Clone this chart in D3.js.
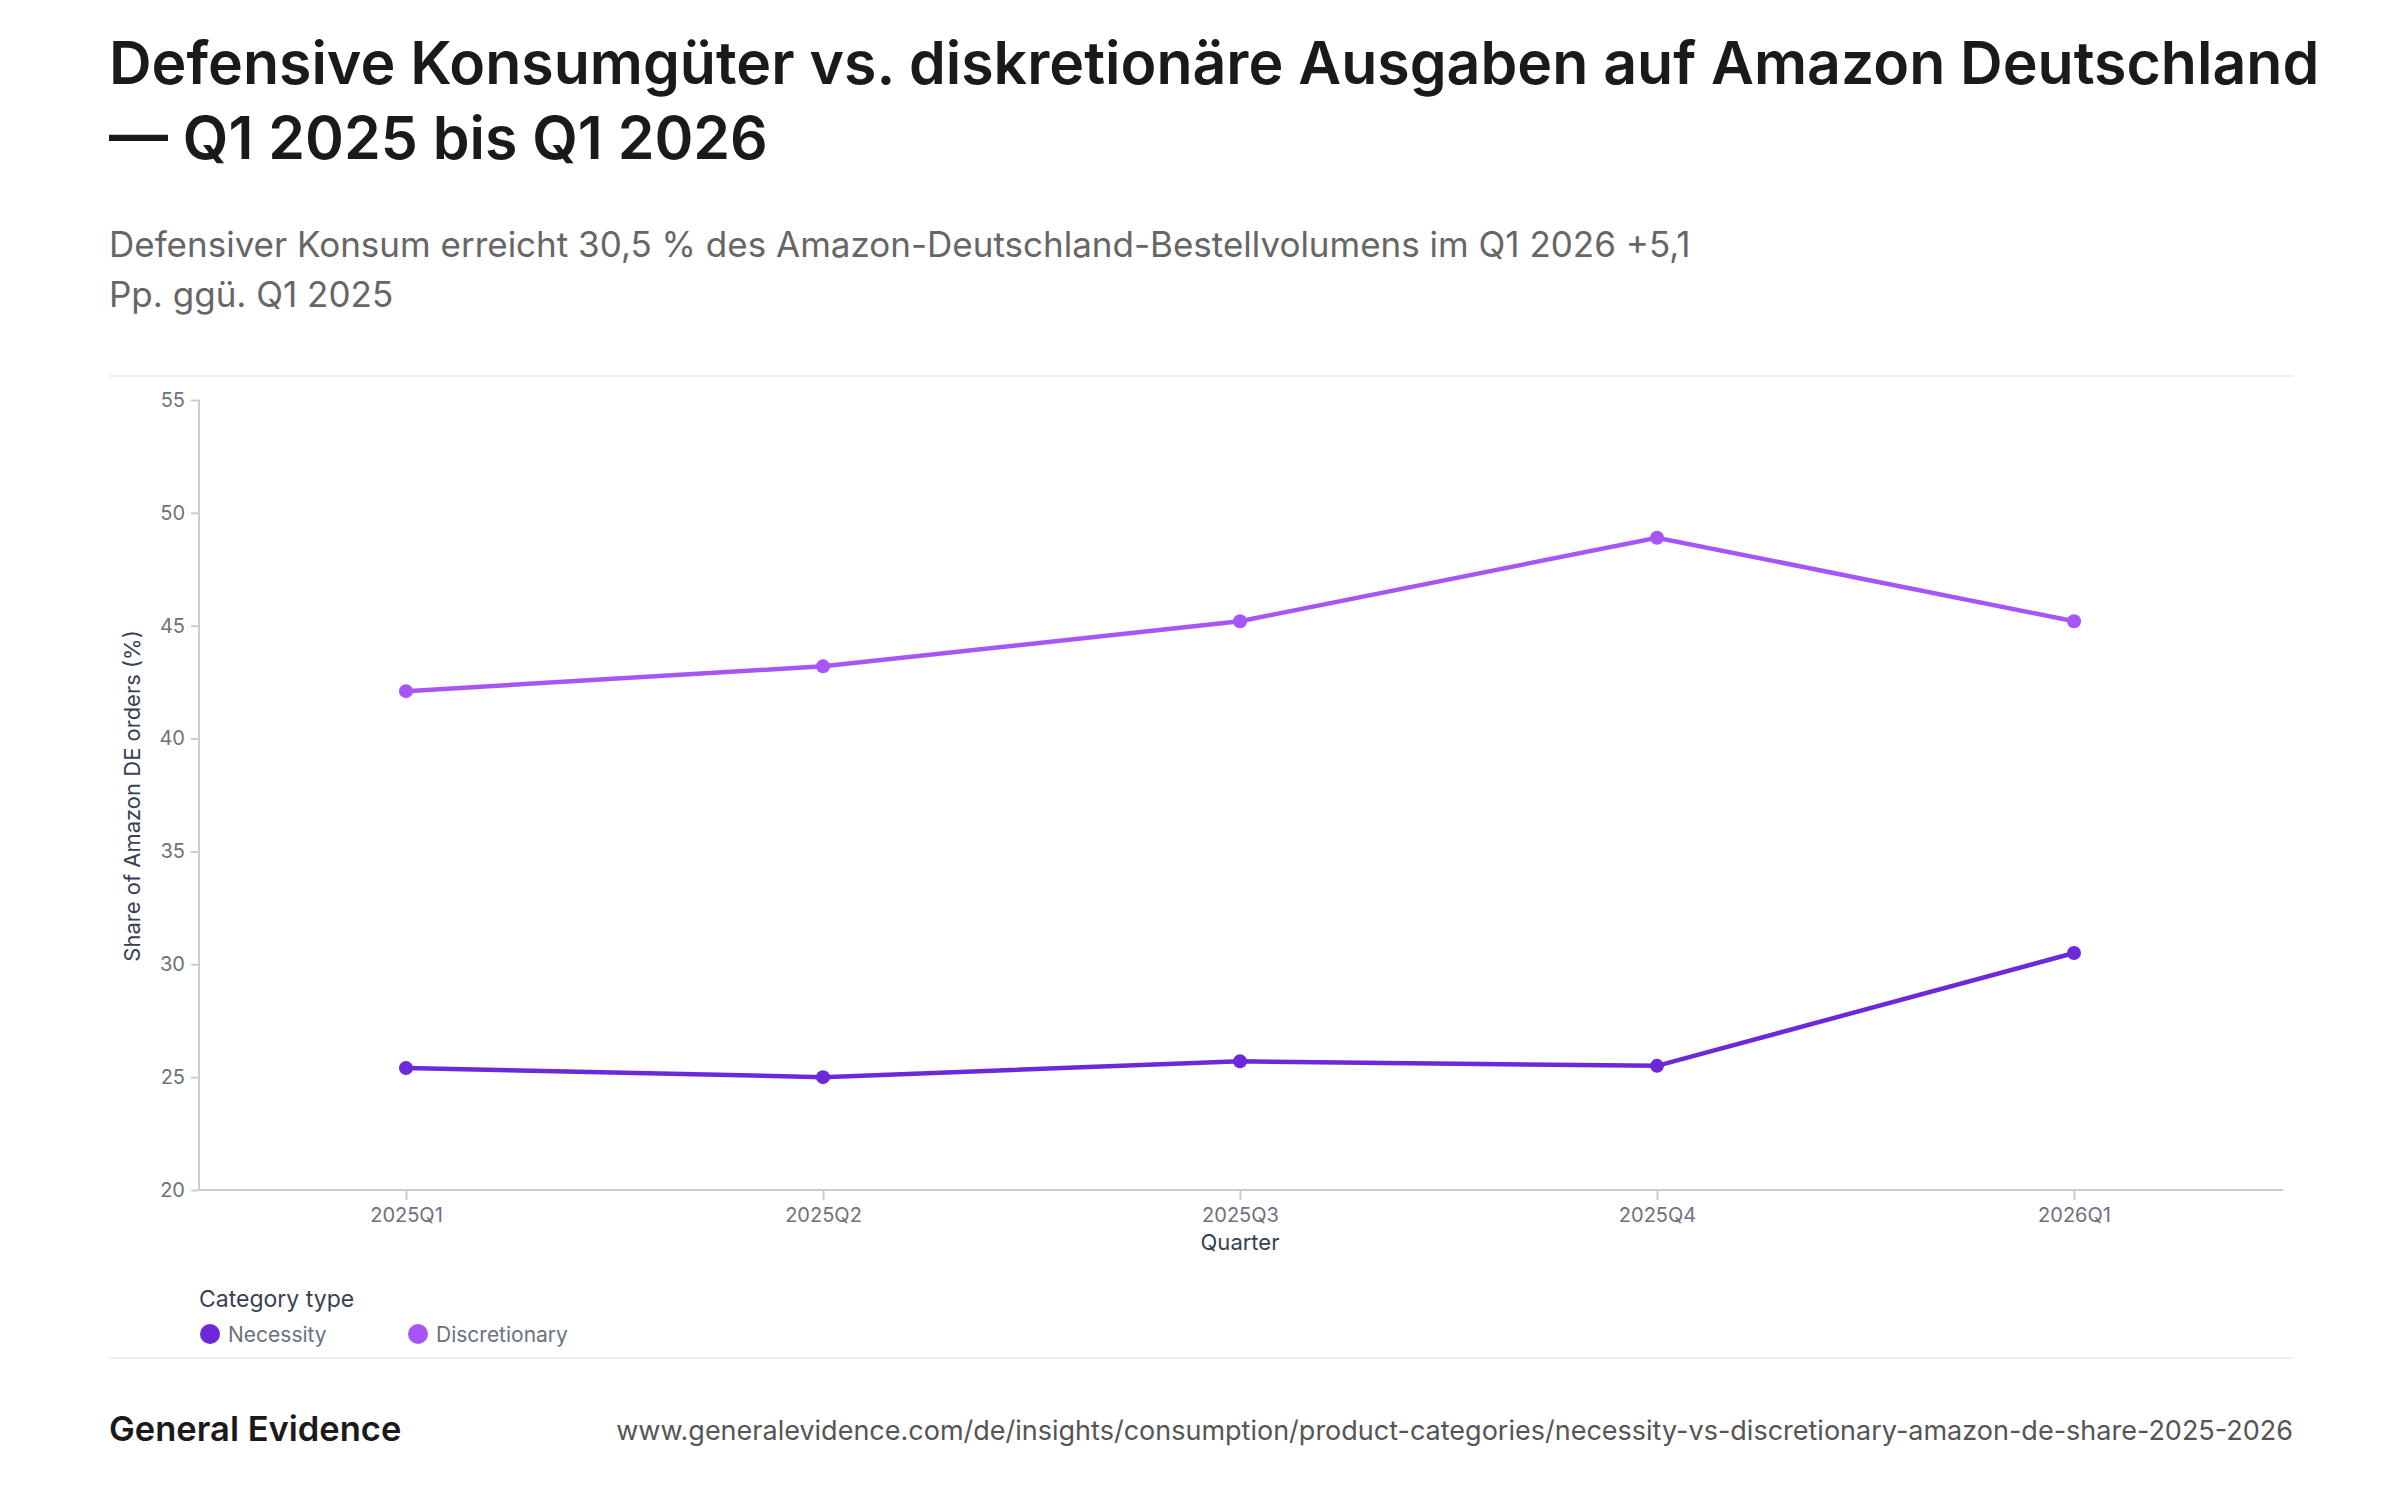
<!DOCTYPE html>
<html><head><meta charset="utf-8">
<script src="https://cdn.jsdelivr.net/npm/d3@7"></script>
<style>body{margin:0;background:#fff}text{font-family:Inter,"Noto Sans",sans-serif}</style>
</head><body><svg id="chart" width="2400" height="1500"></svg>
<script>
// Chart data
var quarters = ["2025Q1", "2025Q2", "2025Q3", "2025Q4", "2026Q1"];
var necessity = [25.4, 25.0, 25.7, 25.5, 30.5];
var discretionary = [42.1, 43.2, 45.2, 48.9, 45.2];
var yTicks = [20, 25, 30, 35, 40, 45, 50, 55];
var seriesNames = ["Necessity", "Discretionary"];
var colors = ["#6d28d9", "#a855f7"];

var svg = d3.select("#chart");

// Header
svg.append("text").attr("x", 109).attr("y", 84).attr("font-size", 59).attr("font-weight", 600).attr("fill", "#1a1a1a")
    .text("Defensive Konsumgüter vs. diskretionäre Ausgaben auf Amazon Deutschland");
svg.append("text").attr("x", 109).attr("y", 159).attr("font-size", 59).attr("font-weight", 600).attr("fill", "#1a1a1a")
    .text("— Q1 2025 bis Q1 2026");
svg.append("text").attr("x", 109).attr("y", 257).attr("font-size", 35).attr("fill", "#666")
    .text("Defensiver Konsum erreicht 30,5 % des Amazon-Deutschland-Bestellvolumens im Q1 2026 +5,1");
svg.append("text").attr("x", 109).attr("y", 307).attr("font-size", 35).attr("fill", "#666")
    .text("Pp. ggü. Q1 2025");

svg.append("line").attr("x1", 109).attr("x2", 2293).attr("y1", 376).attr("y2", 376).attr("stroke", "#eee").attr("stroke-width", 2);
svg.append("line").attr("x1", 109).attr("x2", 2293).attr("y1", 1358).attr("y2", 1358).attr("stroke", "#eee").attr("stroke-width", 2);

// Scales
var x = d3.scalePoint().domain(quarters).range([406, 2074]);
var y = d3.scaleLinear().domain([20, 55]).range([1190, 400]);

// Axes
var gx = svg.append("g").attr("transform", "translate(0,1190)");
gx.append("line").attr("x1", 199).attr("x2", 2283).attr("stroke", "#ccc").attr("stroke-width", 2);
gx.call(d3.axisBottom(x).tickSize(10).tickPadding(8)).call(function (g) {
    g.select(".domain").remove();
    g.selectAll("line").attr("stroke", "#ccc").attr("stroke-width", 2);
    g.selectAll("text").attr("font-size", 20).attr("fill", "#6b7280");
});
var gy = svg.append("g").attr("transform", "translate(199,0)");
gy.append("line").attr("y1", 400).attr("y2", 1190).attr("stroke", "#ccc").attr("stroke-width", 2);
gy.call(d3.axisLeft(y).tickValues(yTicks).tickSize(8).tickPadding(6)).call(function (g) {
    g.select(".domain").remove();
    g.selectAll("line").attr("stroke", "#ccc").attr("stroke-width", 2);
    g.selectAll("text").attr("font-size", 20).attr("fill", "#6b7280");
});

svg.append("text").attr("x", 1240).attr("y", 1250).attr("text-anchor", "middle").attr("font-size", 22).attr("fill", "#374151").text("Quarter");
svg.append("text").attr("transform", "translate(140,796) rotate(-90)").attr("text-anchor", "middle").attr("font-size", 22).attr("fill", "#374151")
    .text("Share of Amazon DE orders (%)");

// Lines and points
var line = d3.line().x(function (d, i) { return x(quarters[i]); }).y(function (d) { return y(d); });
[necessity, discretionary].forEach(function (s, k) {
    svg.append("path").attr("d", line(s)).attr("fill", "none").attr("stroke", colors[k]).attr("stroke-width", 4.5);
    svg.selectAll(null).data(s).enter().append("circle")
        .attr("cx", function (d, i) { return x(quarters[i]); })
        .attr("cy", function (d) { return y(d); })
        .attr("r", 7).attr("fill", colors[k]);
});

// Legend
svg.append("text").attr("x", 199).attr("y", 1307).attr("font-size", 23).attr("fill", "#374151").text("Category type");
var legX = [210, 418];
seriesNames.forEach(function (n, k) {
    svg.append("circle").attr("cx", legX[k]).attr("cy", 1334).attr("r", 10).attr("fill", colors[k]);
    svg.append("text").attr("x", legX[k] + 18).attr("y", 1342).attr("font-size", 21).attr("fill", "#6b7280").text(n);
});

// Footer
svg.append("text").attr("x", 109).attr("y", 1441).attr("font-size", 34.5).attr("font-weight", 600).attr("fill", "#1a1a1a").text("General Evidence");
svg.append("text").attr("x", 2293).attr("y", 1440).attr("text-anchor", "end").attr("font-size", 27).attr("fill", "#555")
    .text("www.generalevidence.com/de/insights/consumption/product-categories/necessity-vs-discretionary-amazon-de-share-2025-2026");
</script></body></html>
